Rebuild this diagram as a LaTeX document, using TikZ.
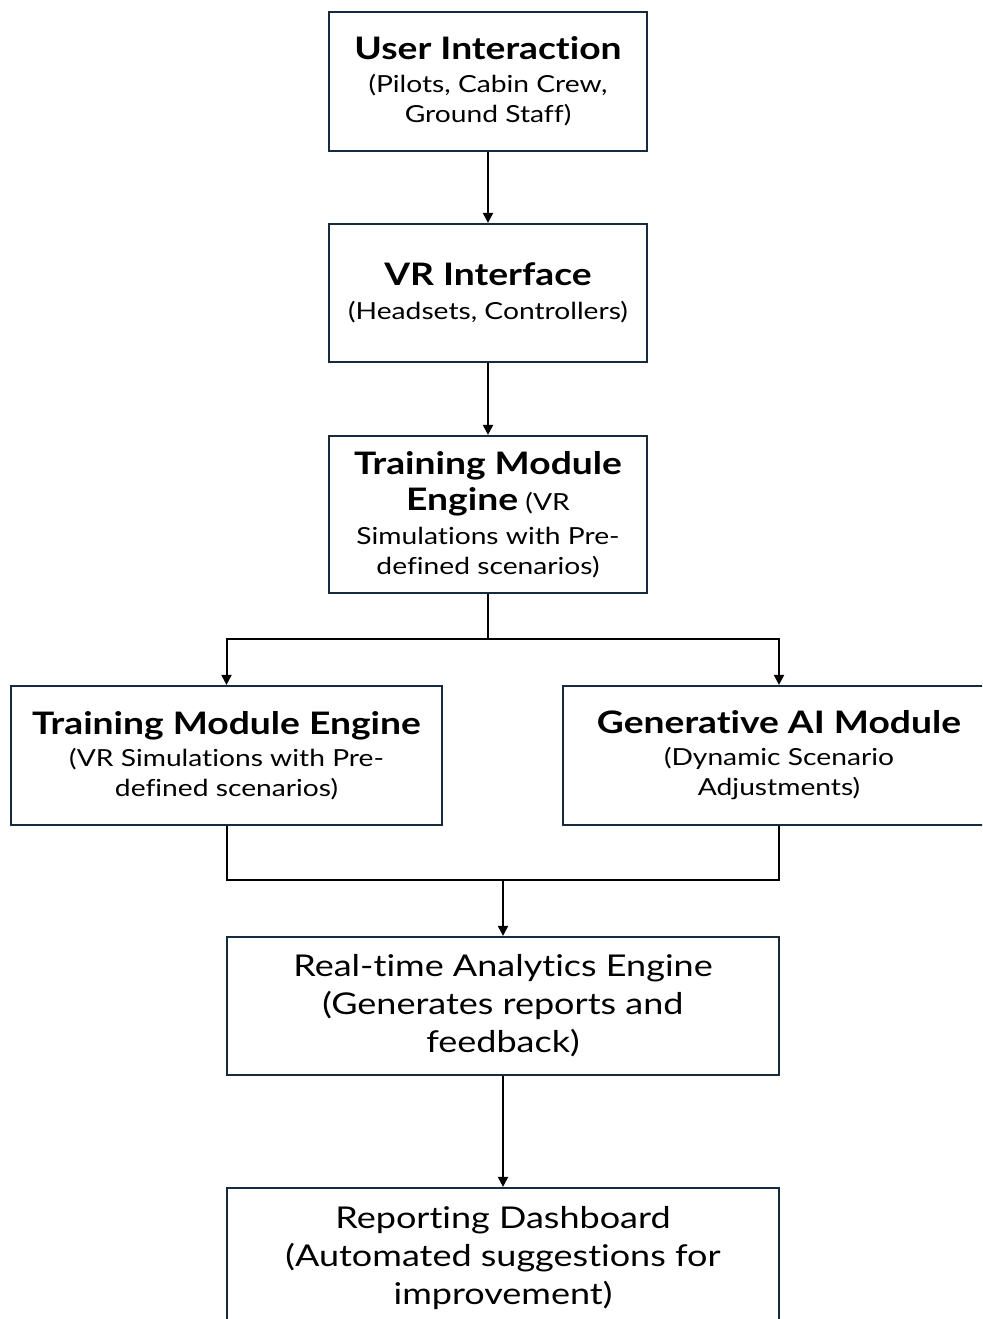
\documentclass[tikz,border=0pt]{standalone}
\usepackage{fontspec}
\setmainfont{Lato}[FakeStretch=1.2, Ligatures=NoCommon]
\usetikzlibrary{arrows.meta,positioning}
\usepackage{xcolor}
\definecolor{boxline}{RGB}{22,44,62}
\newcommand{\headfont}{\fontsize{31}{37}\selectfont\bfseries}
\newcommand{\subfont}{\fontsize{23.5}{30}\selectfont}
\newcommand{\bigfont}{\fontsize{30}{38}\selectfont}

\begin{document}
\begin{tikzpicture}[x=1pt,y=-1pt,
    block/.style={draw=boxline, line width=2.2pt, fill=white, align=center,
        inner sep=0pt, text=black},
    link/.style={line width=2pt, black},
    arr/.style={link, -{Triangle[length=10pt,width=10pt]}}]
    \useasboundingbox (0,0) rectangle (982,1319);
    \clip (0,0) rectangle (982,1319);

    % Top column
    \node[block, minimum width=318, minimum height=139, font=\subfont] (user) at (488,81.5)
        {{\headfont User Interaction}\\[3pt](Pilots, Cabin Crew,\\Ground Staff)};
    \node[block, minimum width=318, minimum height=138, font=\subfont] (vr) at (488,293)
        {{\headfont VR Interface}\\[4pt](Headsets, Controllers)};
    \node[block, minimum width=318, minimum height=157, font=\subfont] (tme) at (488,514.5)
        {{\headfont Training Module}\\[6pt]{\headfont Engine} (VR\\[4pt]Simulations with Pre-\\defined scenarios)};

    % Middle row
    \node[block, minimum width=431, minimum height=139, font=\subfont] (tmeL) at (226.5,755.5)
        {{\headfont Training Module Engine}\\[2pt](VR Simulations with Pre-\\defined scenarios)};
    \node[block, minimum width=432, minimum height=139, font=\subfont] (genai) at (779,755.5)
        {{\headfont Generative AI Module}\\[2pt](Dynamic Scenario\\Adjustments)};

    % Bottom column
    \node[block, minimum width=552, minimum height=138, font=\bigfont] (rta) at (503,1006)
        {Real-time Analytics Engine\\(Generates reports and\\feedback)};
    \node[block, minimum width=552, minimum height=140, font=\bigfont] (dash) at (503,1258)
        {Reporting Dashboard\\(Automated suggestions for\\improvement)};

    % Connectors
    \coordinate (split) at (488,639);
    \coordinate (merge) at (503,880);
    \draw[arr] (user) -- (vr);
    \draw[arr] (vr) -- (tme);
    \draw[link] (tme.south) -- (split);
    \draw[arr] (split) -| (tmeL.north);
    \draw[arr] (split) -| (genai.north);
    \draw[link] (tmeL.south) |- (merge) -| (genai.south);
    \draw[arr] (merge) -- (rta);
    \draw[arr] (rta) -- (dash);
\end{tikzpicture}
\end{document}
